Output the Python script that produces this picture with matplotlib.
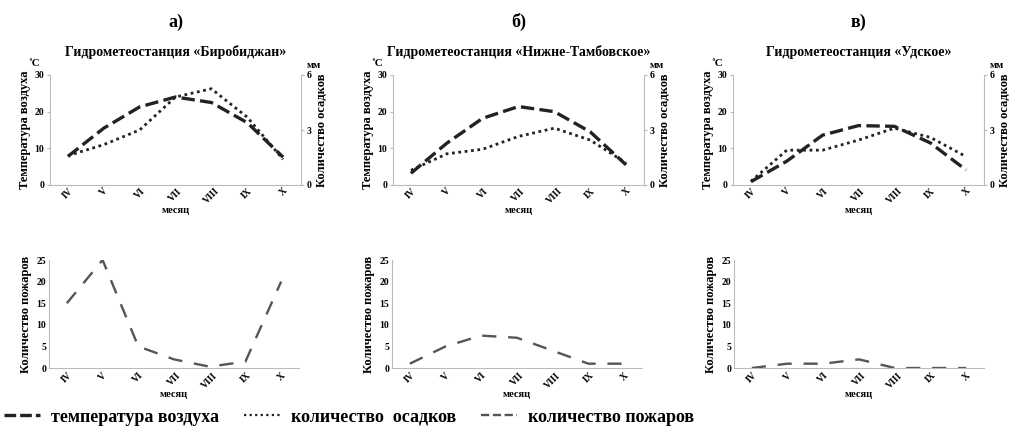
import numpy as np
import matplotlib.pyplot as plt
from matplotlib.lines import Line2D

plt.rcParams['font.family'] = ['Liberation Serif', 'DejaVu Serif']
plt.rcParams['font.weight'] = 'bold'
plt.rcParams['axes.labelweight'] = 'bold'
plt.rcParams['axes.titleweight'] = 'bold'

months = ['IV', 'V', 'VI', 'VII', 'VIII', 'IX', 'X']
letters = ['а)', 'б)', 'в)']
stations = ['Гидрометеостанция «Биробиджан»',
            'Гидрометеостанция «Нижне-Тамбовское»',
            'Гидрометеостанция «Удское»']

# температура воздуха, °C
temp_a = [7.8, 15.5, 21.3, 24.0, 22.5, 17.0, 7.6]
temp_b = [3.2, 11.4, 18.2, 21.4, 20.0, 14.5, 5.5]
temp_v = [0.9, 6.5, 13.6, 16.2, 16.0, 11.5, 4.1]

# количество осадков, мм
prec_a = [1.6, 2.2, 3.0, 4.8, 5.25, 3.7, 1.4]
prec_b = [0.8, 1.7, 1.95, 2.65, 3.1, 2.45, 1.2]
prec_v = [0.2, 1.9, 1.9, 2.45, 3.1, 2.6, 1.55]

# количество пожаров
fires_a = [15, 25, 5, 2, 0.3, 1.5, 20]
fires_b = [1, 5, 7.5, 7, 4, 1, 1]
fires_v = [0, 1, 1, 2, 0, 0, 0]

temps = [temp_a, temp_b, temp_v]
precs = [prec_a, prec_b, prec_v]
fires = [fires_a, fires_b, fires_v]

W, H = 1017, 426
fig = plt.figure(figsize=(W / 100, H / 100), dpi=100)

top_left = [50, 393, 733]
bot_left = [49, 392, 734]
pw = 251
spine_c = '#bbbbbb'
x = np.arange(len(months))

dash_t = (0, (4, 1.6))
fire_c = '#555555'

for i in range(3):
    # upper panel: temperature + precipitation
    ax = fig.add_axes([top_left[i] / W, 1 - 185 / H, pw / W, 110 / H])
    ax2 = ax.twinx()
    ax.plot(x, temps[i], color='#222222', lw=2.4, linestyle=dash_t)
    ax2.plot(x, precs[i], color='#222222', lw=2.0, linestyle=(0, (1, 1.3)))
    ax.set_ylim(0, 30)
    ax2.set_ylim(0, 6)
    ax.set_yticks([0, 10, 20, 30])
    ax2.set_yticks([0, 3, 6])
    ax.set_xlim(-0.5, 6.5)
    ax.set_xticks(x)
    ax.set_xticklabels(months, rotation=45, fontsize=7)
    for a in (ax, ax2):
        for s in a.spines.values():
            s.set_visible(False)
        a.tick_params(length=2, color=spine_c, labelsize=7, pad=2)
    ax.spines['left'].set_visible(True)
    ax.spines['bottom'].set_visible(True)
    ax2.spines['right'].set_visible(True)
    ax.spines['left'].set_color(spine_c)
    ax.spines['bottom'].set_color(spine_c)
    ax2.spines['right'].set_color(spine_c)
    ax.tick_params(axis='x', length=0, pad=1)
    ax.set_ylabel('Температура воздуха', fontsize=9, labelpad=3)
    ax2.set_ylabel('Количество осадков', fontsize=9, labelpad=3)
    ax.set_xlabel('месяц', fontsize=7.5, labelpad=0)
    ax.text(-0.04, 1.08, '˚С', transform=ax.transAxes, fontsize=8, ha='right')
    ax2.text(1.05, 1.06, 'мм', transform=ax2.transAxes, fontsize=7.5, ha='center')
    ax.set_title(stations[i], fontsize=10, pad=14)
    fig.text((top_left[i] + pw / 2) / W, 1 - 22 / H, letters[i],
             fontsize=13, ha='center', va='center')

    # lower panel: fires
    bx = fig.add_axes([bot_left[i] / W, 1 - 368 / H, 250 / W, 108 / H])
    bx.plot(x, fires[i], color=fire_c, lw=1.7, linestyle=(0, (6, 5)))
    bx.set_ylim(0, 25)
    bx.set_yticks([0, 5, 10, 15, 20, 25])
    bx.set_xlim(-0.5, 6.5)
    bx.set_xticks(x)
    bx.set_xticklabels(months, rotation=45, fontsize=7)
    for s in ('top', 'right'):
        bx.spines[s].set_visible(False)
    bx.spines['left'].set_color(spine_c)
    bx.spines['bottom'].set_color(spine_c)
    bx.tick_params(length=0, labelsize=7, pad=2)
    bx.set_ylabel('Количество пожаров', fontsize=9, labelpad=3)
    bx.set_xlabel('месяц', fontsize=7.5, labelpad=0)

handles = [Line2D([], [], color='#222222', lw=2.4, linestyle=(0, (3.5, 1.2))),
           Line2D([], [], color='#222222', lw=1.6, linestyle=(0, (1, 1.5))),
           Line2D([], [], color=fire_c, lw=1.7, linestyle=(0, (3.5, 1.5)))]
labels = ['температура воздуха', 'количество  осадков', 'количество пожаров']
fig.legend(handles, labels, loc='center left', bbox_to_anchor=(0.0, 1 - 417 / H),
           ncol=3, frameon=False, fontsize=13, handlelength=2.0,
           handletextpad=0.6, columnspacing=1.4, borderaxespad=0, borderpad=0.2)

fig.savefig('out.png', dpi=100)
